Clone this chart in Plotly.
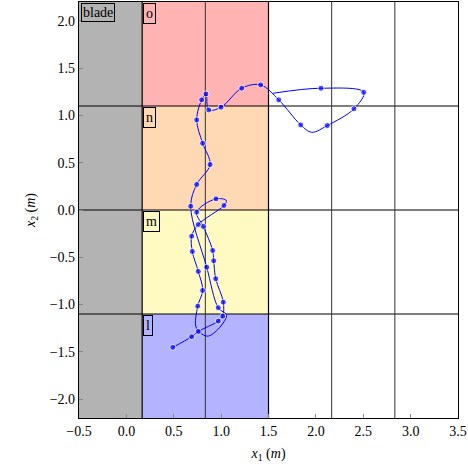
import plotly.graph_objects as go

# region layout
blade_x = [-0.5, 1/6]
region_x = [1/6, 1.5]
region_names = ["o", "n", "m", "l"]
region_y = [[1.1, 2.2], [0.0, 1.1], [-1.1, 0.0], [-2.2, -1.1]]
region_colors = ["#ffb3b3", "#ffd9b3", "#fff9c2", "#b3b3ff"]
vlines_x = [5/6, 13/6, 17/6]
hlines_y = [1.1, 0.0, -1.1]

# trajectory (x1, x2) in path order; has_mark = whether a dot is drawn there
traj_x = [0.49, 0.689, 0.759, 0.97, 1.017, 1.023, 0.943, 0.922, 0.911, 0.812, 0.742, 0.946, 1.055, 1.03,
          0.759, 0.689, 0.696, 0.759, 0.805, 0.753, 0.74, 0.865, 1.058, 0.97, 0.848, 0.679,
          0.742, 0.883, 0.805, 0.742, 0.795, 0.840, 0.869, 0.999, 1.217, 1.417, 1.608, 1.840,
          1.956, 2.12, 2.402, 2.505, 2.054, 1.55]
traj_y = [-1.453, -1.34, -1.285, -1.175, -1.123, -0.975, -0.727, -0.537, -0.428, -0.174, -0.023, 0.118, 0.10, 0.048,
          -0.153, -0.277, -0.439, -0.65, -0.851, -1.017, -1.25, -1.334, -1.115, -1.034, -0.605, 0.04,
          0.27, 0.481, 0.706, 0.953, 1.165, 1.228, 1.059, 1.087, 1.288, 1.323, 1.165, 0.90,
          0.822, 0.893, 1.07, 1.245, 1.288, 1.235]
has_mark = [1, 1, 1, 1, 1, 1, 1, 1, 1, 1, 1, 1, 0, 1,
            1, 1, 1, 1, 1, 1, 0, 0, 0, 1, 1, 1,
            1, 1, 1, 1, 1, 1, 1, 1, 1, 1, 1, 1,
            0, 1, 1, 1, 1, 0]

xticks = [-0.5, 0.0, 0.5, 1.0, 1.5, 2.0, 2.5, 3.0, 3.5]
yticks = [-2.0, -1.5, -1.0, -0.5, 0.0, 0.5, 1.0, 1.5, 2.0]

def fmt(v):
    s = f"{v:.1f}"
    return s.replace("-", "\u2212")

SERIF = "Liberation Serif, DejaVu Serif, serif"

fig = go.Figure()
shapes = []
shapes.append(dict(type="rect", x0=blade_x[0], x1=blade_x[1], y0=-2.2, y1=2.2,
                   fillcolor="#b3b3b3", line=dict(width=0), layer="below"))
for (y0, y1), c in zip(region_y, region_colors):
    shapes.append(dict(type="rect", x0=region_x[0], x1=region_x[1], y0=y0, y1=y1,
                       fillcolor=c, line=dict(width=0), layer="below"))
for y in hlines_y:
    shapes.append(dict(type="line", x0=-0.5, x1=3.5, y0=y, y1=y,
                       line=dict(color="black", width=1.2), layer="below"))
shapes.append(dict(type="line", x0=blade_x[1], x1=blade_x[1], y0=-2.2, y1=2.2,
                   line=dict(color="black", width=1.2), layer="below"))
shapes.append(dict(type="line", x0=region_x[1], x1=region_x[1], y0=-2.2, y1=2.2,
                   line=dict(color="black", width=1.2), layer="below"))
for x in vlines_x:
    shapes.append(dict(type="line", x0=x, x1=x, y0=-2.2, y1=2.2,
                       line=dict(color="#333333", width=1), layer="below"))

annotations = []
annotations.append(dict(x=-0.5, y=2.2, xref="x", yref="y", text="blade", showarrow=False,
                        xanchor="left", yanchor="top", bgcolor="#b3b3b3", bordercolor="black",
                        borderwidth=1, borderpad=1, font=dict(family=SERIF, size=14, color="black"),
                        xshift=2, yshift=-1))
for name, (y0, y1), c in zip(region_names, region_y, region_colors):
    annotations.append(dict(x=region_x[0], y=y1, xref="x", yref="y", text=name, showarrow=False,
                            xanchor="left", yanchor="top", bgcolor=c, bordercolor="black",
                            borderwidth=1, borderpad=2,
                            font=dict(family=SERIF, size=14, color="black"),
                            xshift=1, yshift=-1))

fig.add_trace(go.Scatter(x=traj_x, y=traj_y, mode="lines+markers",
                         line=dict(color="#0000ff", width=1, shape="spline", smoothing=1.0),
                         marker=dict(color="#0000ff", size=[6 if m else 0 for m in has_mark]),
                         showlegend=False))

font = dict(family=SERIF, size=14, color="black")
fig.update_layout(
    width=468, height=473,
    margin=dict(l=79, r=10, t=2, b=55),
    plot_bgcolor="white", paper_bgcolor="white",
    shapes=shapes, annotations=annotations,
    font=font,
    xaxis=dict(range=[-0.5, 3.5], tickvals=xticks, ticktext=[fmt(v) for v in xticks],
               tickfont=font, automargin=False,
               ticks="inside", ticklen=4, tickcolor="#888", showgrid=False, zeroline=False,
               showline=True, linecolor="black", linewidth=1.2, mirror=True,
               title=dict(text="<i>x</i><sub>1</sub> (<i>m</i>)", font=font, standoff=10)),
    yaxis=dict(range=[-2.2, 2.2], tickvals=yticks, ticktext=[fmt(v) for v in yticks],
               tickfont=font, automargin=False,
               ticks="inside", ticklen=4, tickcolor="#888", showgrid=False, zeroline=False,
               showline=True, linecolor="black", linewidth=1.2, mirror=True,
               title=dict(text="<i>x</i><sub>2</sub> (<i>m</i>)", font=font, standoff=10)),
)
fig.write_html("out.html", config={"displayModeBar": False},
               post_script="document.body.style.margin='0';document.body.style.overflow='hidden';")
